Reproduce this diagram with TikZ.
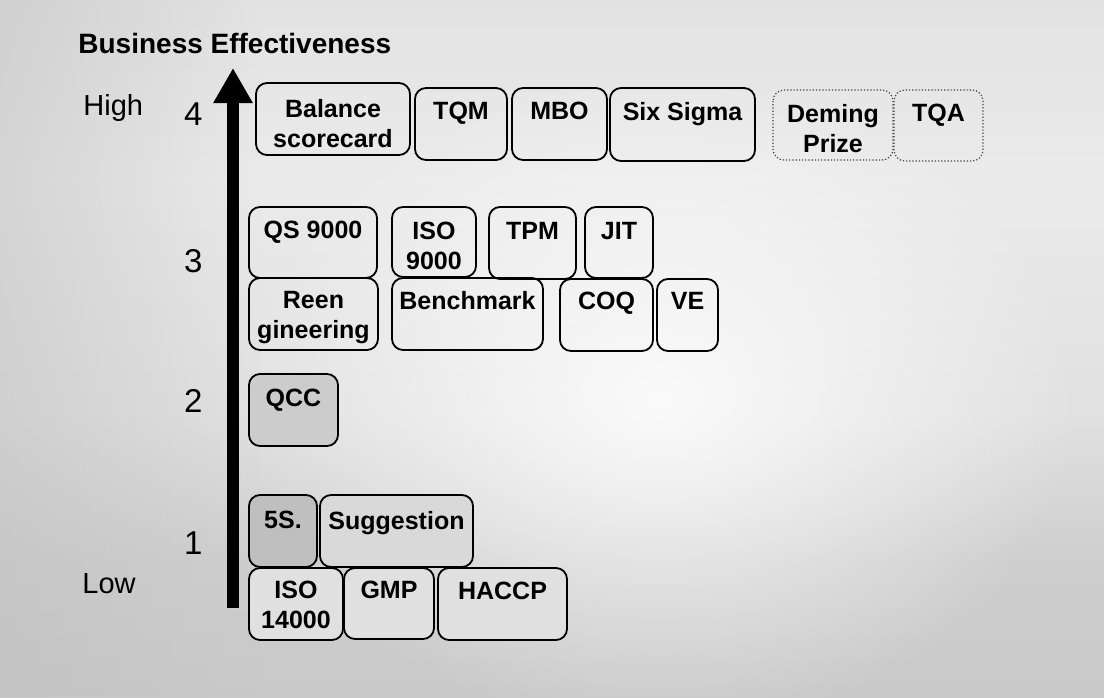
\documentclass[tikz,border=0pt]{standalone}
\usepackage{fontspec}
\setmainfont{Liberation Sans}
\usetikzlibrary{arrows.meta,fadings}

\pgfdeclareverticalshading{paper}{100bp}{%
  color(0bp)=(black!27); color(12bp)=(black!24); color(35bp)=(black!19);
  color(45bp)=(black!12); color(62bp)=(black!8); color(78bp)=(black!12); color(100bp)=(black!14)}
\tikzfading[name=softglow, inner color=transparent!0, outer color=transparent!100]
\tikzfading[name=leftshade, left color=transparent!50, right color=transparent!100]

\tikzset{
  frame/.style={draw=black, line width=0.9pt, rounded corners=5.5pt},
  lightframe/.style={draw=black!75, line width=0.6pt, densely dotted, rounded corners=5.5pt},
  celltext/.style={font=\bfseries\fontsize{12.5}{15}\selectfont, align=center,
                   inner sep=0pt, anchor=north},
  levelnum/.style={font=\fontsize{16.5}{18}\selectfont, inner sep=0pt, anchor=base east},
  levelword/.style={font=\fontsize{14.5}{17}\selectfont, inner sep=0pt, anchor=base west},
}

% \cell{name}{x1}{y1}{x2}{y2}{frame options}{text top}{text}
\newcommand\cell[8]{%
  \draw[#6] (#2,#3) rectangle (#4,#5);
  \node[celltext] (#1) at ({(#2+#4)/2},#7) {#8};}

\begin{document}
\begin{tikzpicture}[x=0.5pt,y=-0.5pt]
  % paper
  \useasboundingbox (0,0) rectangle (1104,697);
  \shade[shading=paper] (0,0) rectangle (1104,697);
  \fill[white, fill opacity=0.85, path fading=softglow]
    (660,400) ellipse[x radius=420, y radius=330];
  \fill[black!25, path fading=leftshade] (0,0) rectangle (260,697);

  % heading
  \node[font=\bfseries\fontsize{14}{16}\selectfont, inner sep=0pt, anchor=base west]
    (title) at (78,53) {Business Effectiveness};

  % vertical axis
  \coordinate (axisbottom) at (233,608);
  \coordinate (axistop) at (233,68);
  \draw[line width=6pt, -{Triangle[width=18.5pt,length=17.5pt]}] (axisbottom) -- (axistop);

  % level labels
  \node[levelword] (high) at (83,115) {High};
  \node[levelword] (low) at (82,593) {Low};
  \node[levelnum] (n4) at (203,125) {4};
  \node[levelnum] (n3) at (203,272) {3};
  \node[levelnum] (n2) at (203,412) {2};
  \node[levelnum] (n1) at (203,554) {1};

  % level 4
  \cell{bal}{256}{83}{410}{155}{frame}{99}{Balance\\scorecard}
  \cell{tqm}{415}{88}{507}{160}{frame}{102}{TQM}
  \cell{mbo}{512}{88}{607}{160}{frame}{102}{MBO}
  \cell{six}{610}{88}{755}{161}{frame}{102}{Six Sigma}
  \cell{dem}{773}{90}{893}{160}{lightframe}{104}{Deming\\Prize}
  \cell{tqa}{894}{90}{983}{161}{lightframe}{104}{TQA}

  % level 3
  \cell{qs}{249}{207}{377}{278}{frame}{221}{QS 9000}
  \cell{isoa}{392}{207}{476}{277}{frame}{222}{ISO\\9000}
  \cell{tpm}{489}{207}{576}{279}{frame}{222}{TPM}
  \cell{jit}{585}{207}{653}{278}{frame}{222}{JIT}
  \cell{reen}{249}{278}{378}{350}{frame}{291}{Reen\\gineering}
  \cell{bench}{392}{278}{543}{350}{frame}{291}{Benchmark}
  \cell{coq}{560}{279}{653}{351}{frame}{292}{COQ}
  \cell{ve}{657}{279}{718}{351}{frame}{292}{VE}

  % level 2
  \cell{qcc}{249}{374}{338}{446}{frame,fill=black!20}{389}{QCC}

  % level 1
  \cell{fives}{249}{495}{317}{567}{frame,fill=black!25}{511}{5S.}
  \cell{sugg}{320}{495}{473}{567}{frame,fill=black!15}{511}{Suggestion}
  \cell{isob}{249}{568}{343}{640}{frame,fill=black!12}{581}{ISO\\14000}
  \cell{gmp}{344}{568}{434}{639}{frame,fill=black!12}{581}{GMP}
  \cell{haccp}{438}{568}{567}{640}{frame,fill=black!12}{582}{HACCP}
\end{tikzpicture}
\end{document}
